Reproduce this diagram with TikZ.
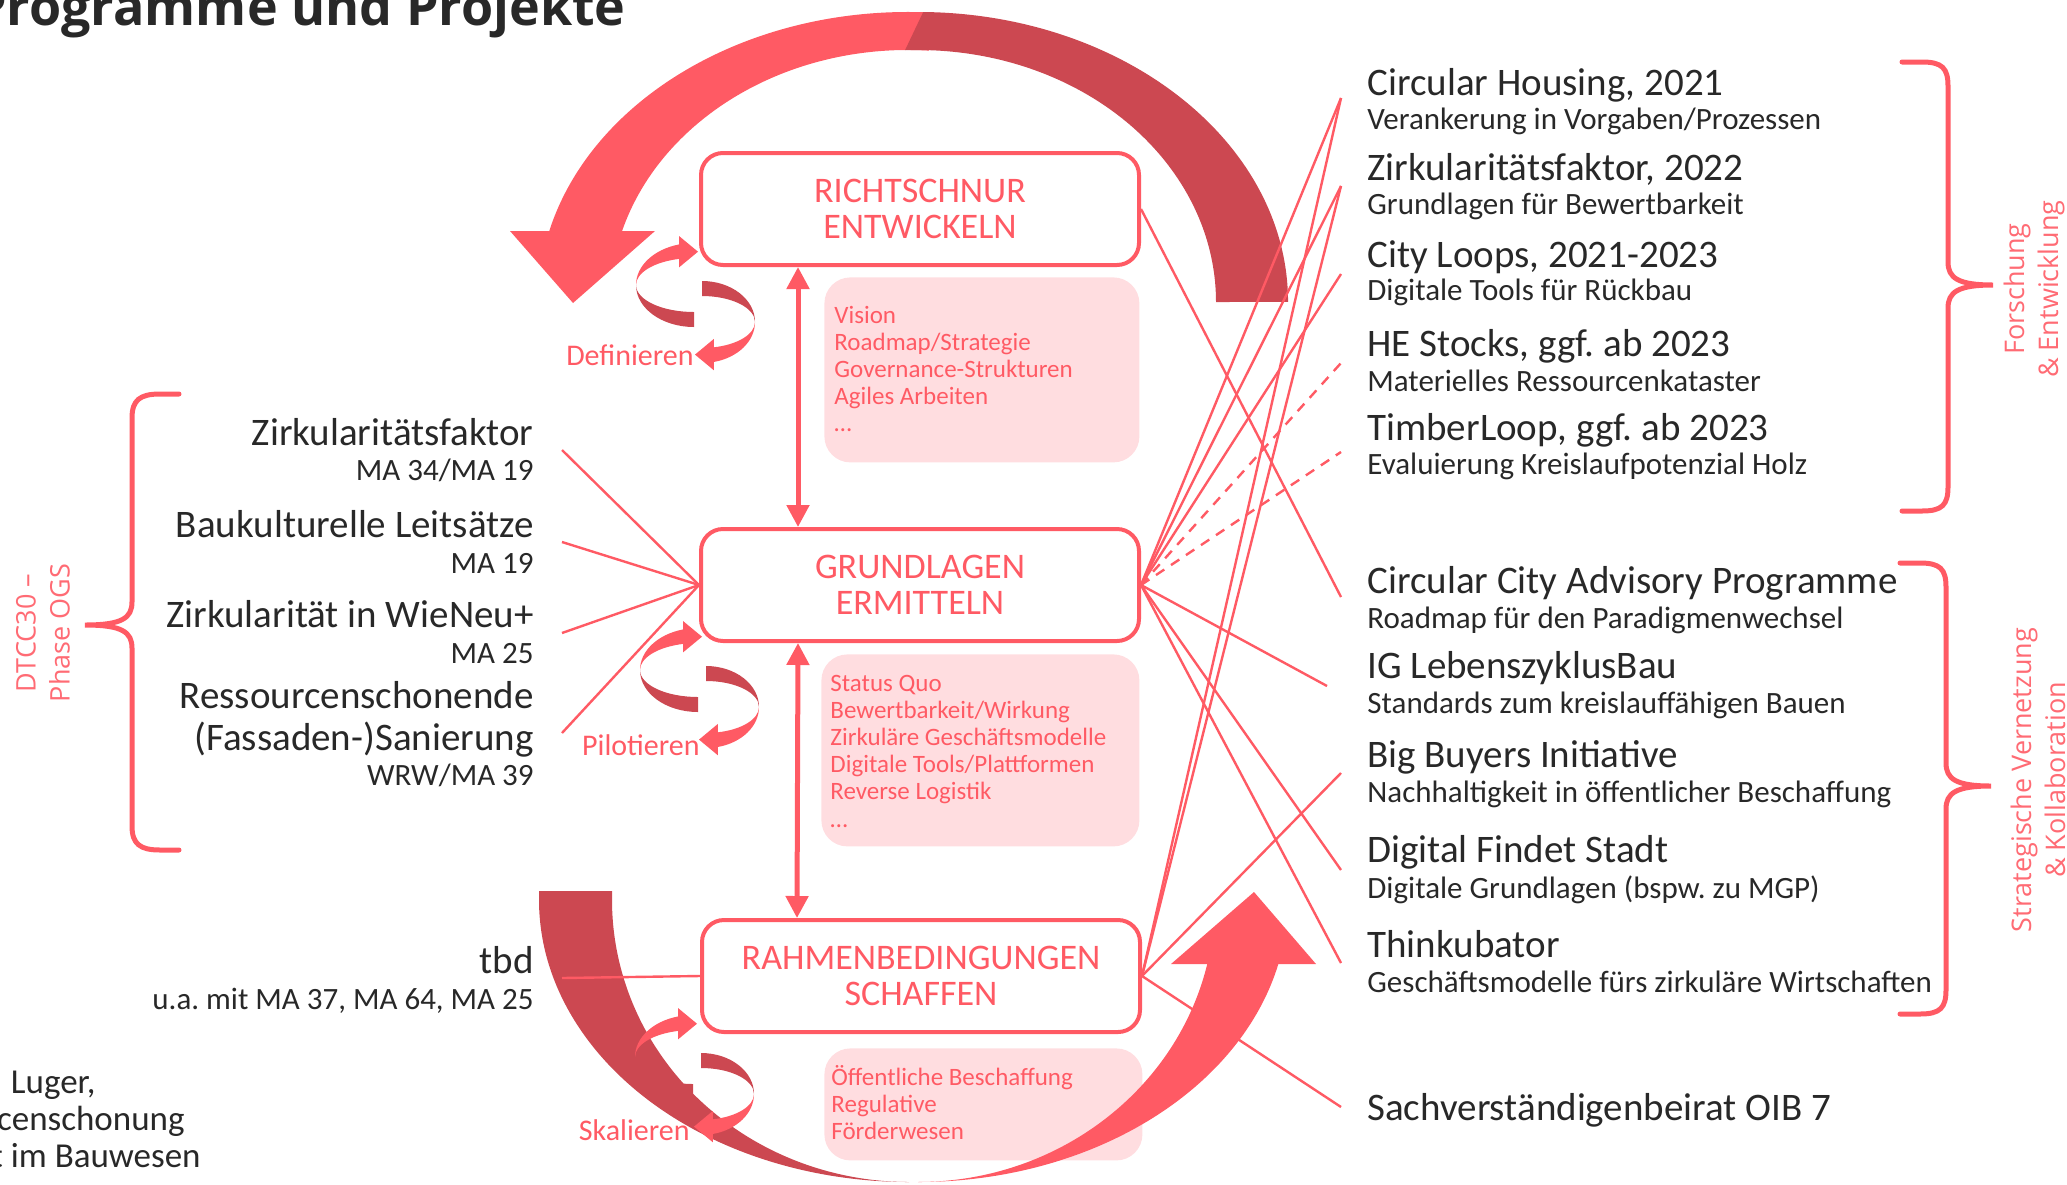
\documentclass[tikz,border=0pt]{standalone}
\usepackage{fontspec}
\setmainfont{Carlito}
\newfontfamily\wideface{Open Sans}
\usetikzlibrary{arrows.meta}
\definecolor{ribred}{HTML}{FF5A64}
\definecolor{ribdark}{HTML}{CC4851}
\definecolor{ribpink}{HTML}{FFDDE0}
\definecolor{sidered}{HTML}{FF6B74}
\definecolor{ink}{HTML}{282828}
\newcommand{\liststack}[1]{\begin{tabular}[t]{@{}l@{}}#1\end{tabular}}
\frenchspacing

\begin{document}
\begin{tikzpicture}[x=0.5pt, y=-0.5pt,
  stepbox/.style={draw=ribred, line width=2pt, fill=white, rounded corners=11pt,
    minimum width=219pt, minimum height=56pt, inner sep=0pt, align=center,
    text=ribred, font=\fontsize{18}{18}\selectfont},
  infobox/.style={fill=ribpink, rounded corners=13pt, anchor=north west, inner sep=0pt},
  infotext/.style={anchor=base west, inner sep=0pt, text=ribred, font=\fontsize{12.5}{13.6}\selectfont},
  projtitle/.style={anchor=base west, inner sep=0pt, text=ink, font=\fontsize{19.5}{19.5}\selectfont},
  projsub/.style={anchor=base west, inner sep=0pt, text=ink, font=\fontsize{15.5}{15.5}\selectfont},
  ltitle/.style={projtitle, anchor=base east},
  lsub/.style={projsub, anchor=base east},
  phase/.style={anchor=base east, inner sep=0pt, text=ribred, font=\fontsize{15}{15}\selectfont},
  sidelabel/.style={rotate=90, align=center, inner sep=0pt, text=sidered, font=\wideface\fontsize{13.5}{17}\selectfont},
  bracket/.style={draw=ribred, line width=2.5pt, line cap=round},
  link/.style={draw=ribred, line width=1.2pt},
  dashlink/.style={link, dash pattern=on 5pt off 4pt},
  updown/.style={draw=ribred, line width=2.5pt, {Triangle[length=11pt,width=11pt]}-{Triangle[length=11pt,width=11pt]}},
  pics/cyclesign/.style={code={
    % left half ring, light on top, dark below
    \fill[ribred] (-58,-18) arc[start angle=180, end angle=255, x radius=58, y radius=42]
      -- (-15,-44.1) arc[start angle=255, end angle=180, x radius=58, y radius=27] -- cycle;
    \fill[ribred] (-15,-67) -- (4,-51.3) -- (-15,-35.6) -- cycle;
    \fill[ribdark] (-58,-18) arc[start angle=180, end angle=90, x radius=58, y radius=42]
      -- (0,9) arc[start angle=90, end angle=180, x radius=58, y radius=27] -- cycle;
    % right half ring, dark on top, light below
    \fill[ribdark] (8,-22) arc[start angle=270, end angle=360, x radius=53, y radius=41]
      -- (61,19) arc[start angle=360, end angle=270, x radius=53, y radius=26] -- cycle;
    \fill[ribred] (61,19) arc[start angle=0, end angle=77, x radius=53, y radius=41]
      -- (19.9,44.3) arc[start angle=77, end angle=0, x radius=53, y radius=26] -- cycle;
    \fill[ribred] (19.9,35.9) -- (1,51.6) -- (19.9,67.3) -- cycle;
  }}
]
\useasboundingbox (0,0) rectangle (2067,1184);
\clip (0,0) rectangle (2067,1184);

% pink lists behind the steps
\node[infobox, minimum width=157.5pt, minimum height=92.5pt] (rich-info) at (824,277) {};
\node[infobox, minimum width=159pt, minimum height=96pt] (grund-info) at (821,654) {};
\node[infobox, minimum width=159pt, minimum height=56pt] (rahmen-info) at (824,1048) {};

% big cycle, top half
\fill[ribred] (546.1,241.7) arc[start angle=192, end angle=274, x radius=370, y radius=290]
  -- (928.8,50.6) arc[start angle=274, end angle=193.85, x radius=298, y radius=252] -- cycle;
\fill[ribred] (510,231) -- (655,231) -- (573,303) -- cycle;
\fill[ribdark] (923.2,12) arc[start angle=270.8, end angle=360, x radius=370, y radius=290]
  -- (1216,302) arc[start angle=360, end angle=267.5, x radius=298, y radius=252] -- cycle;
% big cycle, bottom half (dark part)
\fill[ribdark] (539.2,891) arc[start angle=181.83, end angle=90, x radius=370, y radius=282]
  -- (909,1182) arc[start angle=90, end angle=181.83, x radius=297, y radius=282] -- cycle;

% steps
\node[stepbox] (rich) at (920,209) {RICHTSCHNUR\\ENTWICKELN};
\node[stepbox] (grund) at (920,585) {GRUNDLAGEN\\ERMITTELN};
\node[stepbox] (rahmen) at (921,976) {RAHMENBEDINGUNGEN\\SCHAFFEN};

\node[infotext] (rich-list) at (834,323) {\liststack{Vision\\Roadmap/Strategie\\Governance-Strukturen\\Agiles Arbeiten\\…}};
\node[infotext] (grund-list) at (830,691) {\liststack{Status Quo\\Bewertbarkeit/Wirkung\\Zirkuläre Geschäftsmodelle\\Digitale Tools/Plattformen\\Reverse Logistik\\…}};
\node[infotext] (rahmen-list) at (831,1085) {\liststack{Öffentliche Beschaffung\\Regulative\\Förderwesen}};

\draw[updown] ([xshift=-61pt]rich.south) -- ([xshift=-61pt]grund.north);
\draw[updown] ([xshift=-61pt]grund.south) -- ([xshift=-62pt]rahmen.north);

% connector ends
\coordinate (zfaktor-end) at (562,450);
\coordinate (leitsatz-end) at (562,542);
\coordinate (wieneu-end) at (562,633);
\coordinate (sanier-end) at (562,733);
\coordinate (tbd-end) at (562,978);
\coordinate (housing-end) at (1341,98);
\coordinate (zfaktor22-end) at (1341,186);
\coordinate (cityloops-end) at (1341,274);
\coordinate (hestocks-end) at (1341,363);
\coordinate (timber-end) at (1341,452);
\coordinate (ccap-end) at (1341,597);
\coordinate (iglzb-end) at (1327,686);
\coordinate (bigbuy-end) at (1341,773);
\coordinate (dfs-end) at (1341,870);
\coordinate (thinkub-end) at (1341,963);
\coordinate (sachv-end) at (1341,1107);

% left side
\foreach \src in {zfaktor,leitsatz,wieneu,sanier}
  \draw[link] (\src-end) -- (grund.west);
\draw[link] (tbd-end) -- (rahmen.west);
% right side
\foreach \dst in {housing,zfaktor22,cityloops,iglzb,dfs,thinkub}
  \draw[link] (grund.east) -- (\dst-end);
\draw[dashlink] (grund.east) -- (hestocks-end);
\draw[dashlink] (grund.east) -- (timber-end);
\draw[link] (rich.east) -- (ccap-end);
\foreach \dst in {housing,zfaktor22,bigbuy,sachv}
  \draw[link] (rahmen.east) -- (\dst-end);

% big cycle, bottom half (light part with head)
\fill[ribred] (918,1182) arc[start angle=90, end angle=10.63, x radius=370, y radius=282]
  -- (1209.9,952) arc[start angle=10.63, end angle=90, x radius=297, y radius=282] -- cycle;
\fill[ribred] (1171,964) -- (1316,964) -- (1254,892) -- cycle;

% small cycles
\node[phase] (definieren) at (694,365) {Definieren};
\node[phase] (pilotieren) at (700,755) {Pilotieren};
\node[phase] (skalieren) at (690,1140) {Skalieren};
\pic at (694,303) {cyclesign};
\pic at (698,688) {cyclesign};
\pic at (693,1075) {cyclesign};

% title and cut off text
\node[anchor=base east, inner sep=0pt, text=ink, font=\wideface\bfseries\fontsize{26}{26}\selectfont] (title) at (626,25) {Programme und Projekte};
\node[ltitle, font=\fontsize{17.5}{17.5}\selectfont] (cut1) at (96,1093) {Luger,};
\node[ltitle, font=\fontsize{17.5}{17.5}\selectfont] (cut2) at (185,1130) {censchonung};
\node[ltitle, font=\fontsize{17.5}{17.5}\selectfont] (cut3) at (201,1167) {t im Bauwesen};

% left column
\node[ltitle] (zfaktor) at (534,445) {Zirkularitätsfaktor};
\node[lsub] (zfaktor-sub) at (534,480) {MA 34/MA 19};
\node[ltitle] (leitsatz) at (534,537) {Baukulturelle Leitsätze};
\node[lsub] (leitsatz-sub) at (534,573) {MA 19};
\node[ltitle] (wieneu) at (534,627) {Zirkularität in WieNeu+};
\node[lsub] (wieneu-sub) at (534,663) {MA 25};
\node[ltitle] (sanier) at (534,708) {Ressourcenschonende};
\node[ltitle] (sanier2) at (534,750) {(Fassaden-)Sanierung};
\node[lsub] (sanier-sub) at (534,785) {WRW/MA 39};
\node[ltitle] (tbd) at (534,973) {tbd};
\node[lsub] (tbd-sub) at (534,1009) {u.a. mit MA 37, MA 64, MA 25};

% right column
\node[projtitle] (housing) at (1367,95) {Circular Housing, 2021};
\node[projsub] (housing-sub) at (1367,129) {Verankerung in Vorgaben/Prozessen};
\node[projtitle] (zfaktor22) at (1367,180) {Zirkularitätsfaktor, 2022};
\node[projsub] (zfaktor22-sub) at (1367,214) {Grundlagen für Bewertbarkeit};
\node[projtitle] (cityloops) at (1367,267) {City Loops, 2021-2023};
\node[projsub] (cityloops-sub) at (1367,300) {Digitale Tools für Rückbau};
\node[projtitle] (hestocks) at (1367,356) {HE Stocks, ggf. ab 2023};
\node[projsub] (hestocks-sub) at (1367,391) {Materielles Ressourcenkataster};
\node[projtitle] (timber) at (1367,440) {TimberLoop, ggf. ab 2023};
\node[projsub] (timber-sub) at (1367,474) {Evaluierung Kreislaufpotenzial Holz};
\node[projtitle] (ccap) at (1367,593) {Circular City Advisory Programme};
\node[projsub] (ccap-sub) at (1367,628) {Roadmap für den Paradigmenwechsel};
\node[projtitle] (iglzb) at (1367,678) {IG LebenszyklusBau};
\node[projsub] (iglzb-sub) at (1367,713) {Standards zum kreislauffähigen Bauen};
\node[projtitle] (bigbuy) at (1367,767) {Big Buyers Initiative};
\node[projsub] (bigbuy-sub) at (1367,802) {Nachhaltigkeit in öffentlicher Beschaffung};
\node[projtitle] (dfs) at (1367,862) {Digital Findet Stadt};
\node[projsub] (dfs-sub) at (1367,898) {Digitale Grundlagen (bspw. zu MGP)};
\node[projtitle] (thinkub) at (1367,957) {Thinkubator};
\node[projsub] (thinkub-sub) at (1367,992) {Geschäftsmodelle fürs zirkuläre Wirtschaften};
\node[projtitle] (sachv) at (1367,1120) {Sachverständigenbeirat OIB 7};

% brackets and their labels
\draw[bracket] (179,394) -- (160,394) .. controls (140,394) and (132,400) .. (132,418) -- (132,602)
  .. controls (132,618) and (122,625) .. (85,625) .. controls (122,625) and (132,632) .. (132,648)
  -- (132,826) .. controls (132,844) and (140,850) .. (160,850) -- (179,850);
\draw[bracket] (1902,62) -- (1922,62) .. controls (1942,62) and (1948,68) .. (1948,86) -- (1948,262)
  .. controls (1948,278) and (1958,285) .. (1993,285) .. controls (1958,285) and (1948,292) .. (1948,308)
  -- (1948,487) .. controls (1948,505) and (1942,511) .. (1922,511) -- (1902,511);
\draw[bracket] (1900,563) -- (1920,563) .. controls (1940,563) and (1946,569) .. (1946,587) -- (1946,763)
  .. controls (1946,779) and (1956,786) .. (1991,786) .. controls (1956,786) and (1946,793) .. (1946,809)
  -- (1946,990) .. controls (1946,1008) and (1940,1014) .. (1920,1014) -- (1900,1014);
\node[sidelabel] (dtcc) at (43,633) {DTCC30 –\\Phase OGS};
\node[sidelabel] (forschung) at (2034,289) {Forschung\\\& Entwicklung};
\node[sidelabel] (vernetzung) at (2038,780) {Strategische Vernetzung\\\& Kollaboration};
\end{tikzpicture}
\end{document}
